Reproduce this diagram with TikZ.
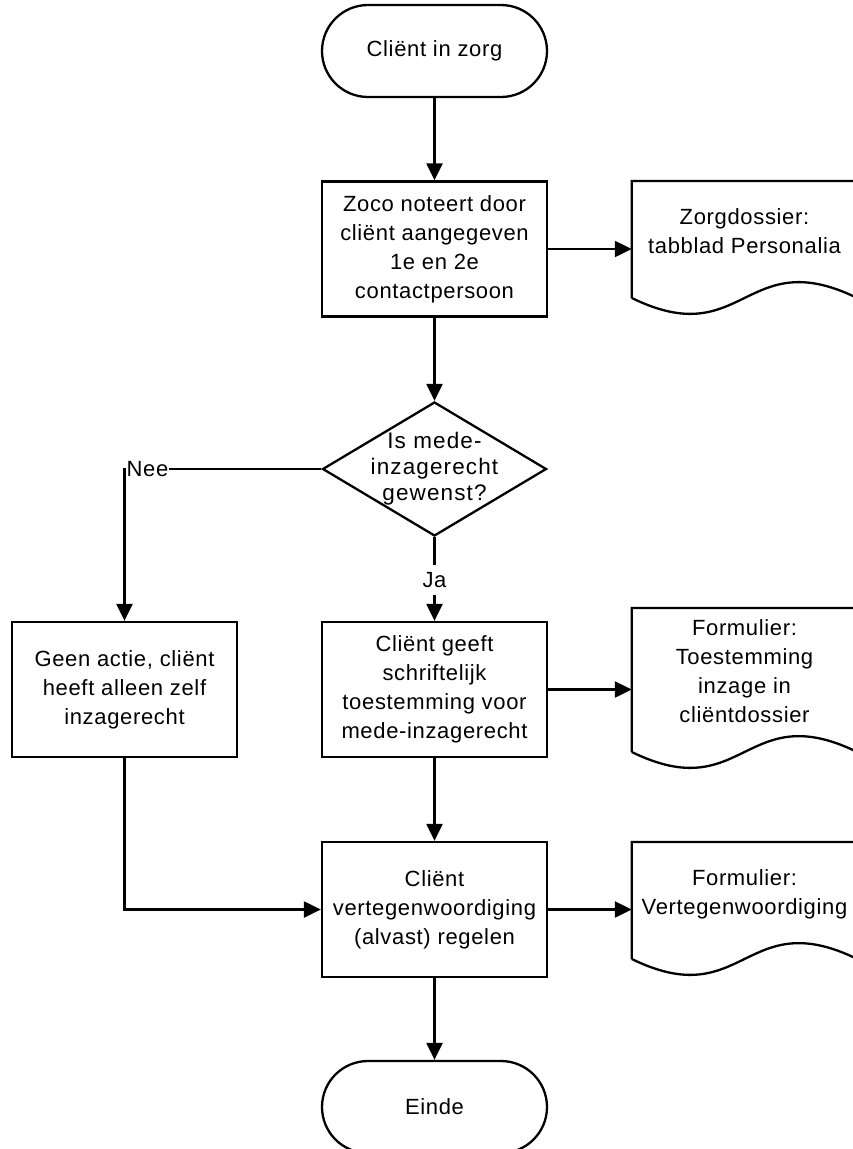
\documentclass[tikz,border=0pt]{standalone}
\usepackage{fontspec}
\setmainfont{Liberation Sans}[LetterSpace=3]
\usepackage{tikz}
\usetikzlibrary{shapes,arrows.meta,positioning,calc}

\newcommand{\docvorm}[3]{%
  \draw[docline] ($(#1.west)+(0,#3)$) -- ($(#1.west)+(0,-#2)$) -- ($(#1.east)+(0,-#2)$) -- ($(#1.east)+(0,#3)$)
    .. controls +(-112.5,-55) and ($(#1.west)+(112.5,#3+55)$) .. ($(#1.west)+(0,#3)$);}

\begin{document}
\begin{tikzpicture}[
    x=1pt, y=-1pt,
    terminal/.style={rectangle, draw, line width=2.3pt, rounded corners=46pt, minimum width=225pt, minimum height=92pt, font=\fontsize{22}{29}\selectfont},
    box/.style={rectangle, draw, line width=2.3pt, minimum width=225pt, minimum height=135pt, align=center, font=\fontsize{22}{29}\selectfont},
    keuze/.style={diamond, draw, line width=2.3pt, minimum width=224pt, minimum height=134pt, inner sep=0pt},
    keuzetekst/.style={align=center, font=\fontsize{22.5}{26}\selectfont\addfontfeatures{LetterSpace=5}},
    doctekst/.style={minimum width=225pt, inner sep=0pt, align=center, font=\fontsize{22}{29}\selectfont},
    docline/.style={line width=2.3pt, line join=miter},
    lbl/.style={fill=white, inner xsep=1pt, inner ysep=7pt, font=\fontsize{22}{29}\selectfont},
    arrow/.style={-{Triangle[length=17pt,width=16pt]}, line width=2.3pt}
]
    \useasboundingbox (0,0) rectangle (853,1149);

    \node[terminal] (start) at (434.5,51) {Cliënt in zorg};
    \node[box] (zoco) at (434.5,249) {Zoco noteert door\\cliënt aangegeven\\1e en 2e\\contactpersoon};
    \node[doctekst] (dossier) at (744.5,231) {Zorgdossier:\\tabblad Personalia};
    \node[keuze, label={[keuzetekst]center:Is mede-\\inzagerecht\\gewenst?}] (vraag) at (434.5,469) {};
    \node[box] (geenactie) at (124.5,689.5) {Geen actie, cliënt\\heeft alleen zelf\\inzagerecht};
    \node[box] (toestemming) at (434.5,689.5) {Cliënt geeft\\schriftelijk\\toestemming voor\\mede-inzagerecht};
    \node[doctekst] (formtoest) at (744.5,671) {Formulier:\\Toestemming\\inzage in\\cliëntdossier};
    \node[box] (vertegenw) at (434.5,909.5) {Cliënt\\vertegenwoordiging\\(alvast) regelen};
    \node[doctekst] (formverteg) at (744.5,894) {Formulier:\\Vertegenwoordiging};
    \node[terminal] (einde) at (434.5,1107) {Einde};

    \docvorm{dossier}{50}{67}
    \docvorm{formtoest}{63}{81}
    \docvorm{formverteg}{52}{65}

    \draw[arrow] (start) -- (zoco);
    \draw[arrow] (zoco.east) -- (zoco.east -| dossier.west);
    \draw[arrow] (zoco) -- (vraag);
    \draw[arrow] (vraag.west) -| node[lbl, pos=0.5, anchor=west] (nee) {Nee} (geenactie.north);
    \draw[arrow] (vraag.south) -- node[lbl, pos=0.51] (ja) {Ja} (toestemming.north);
    \draw[arrow] (toestemming.east) -- (toestemming.east -| formtoest.west);
    \draw[arrow] (toestemming) -- (vertegenw);
    \draw[arrow] (geenactie.south) |- (vertegenw.west);
    \draw[arrow] (vertegenw.east) -- (vertegenw.east -| formverteg.west);
    \draw[arrow] (vertegenw) -- (einde);
\end{tikzpicture}
\end{document}
